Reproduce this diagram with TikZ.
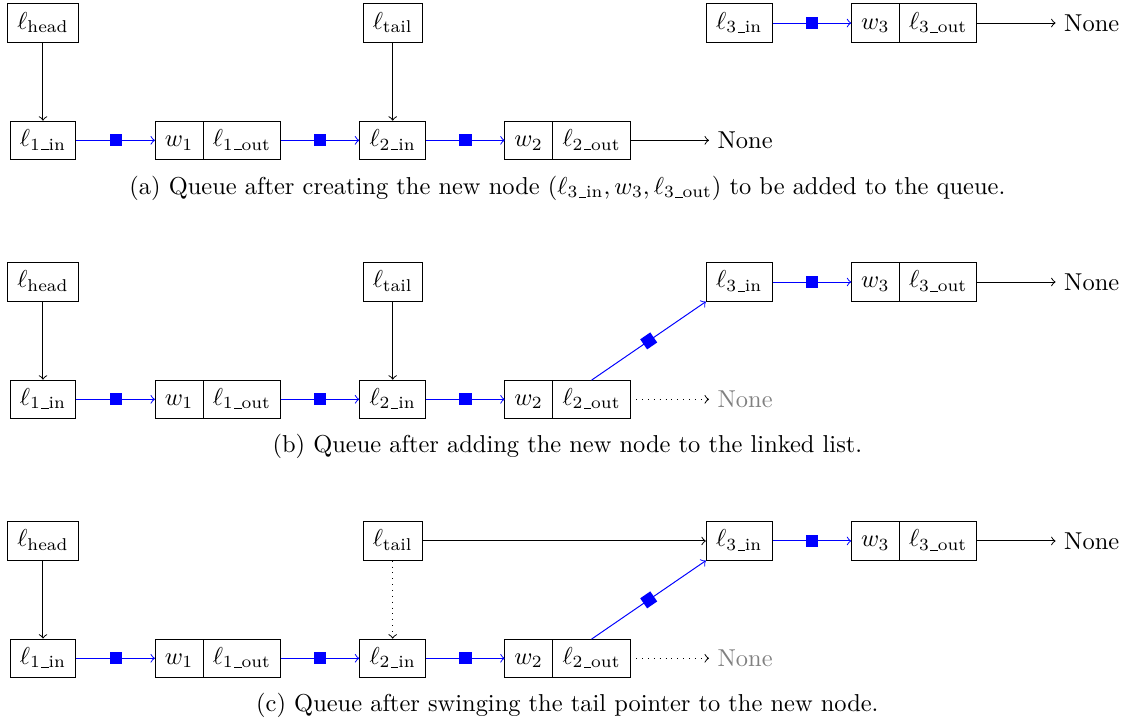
\documentclass[tikz,border=0pt]{standalone}
\usepackage{amsmath}
\usetikzlibrary{positioning}
\newcommand{\usc}{\kern.6pt\vbox{\hrule width3pt}}
\newcommand{\lIn}[1]{\ell_{\text{#1\usc in}}}
\newcommand{\lOut}[1]{\ell_{\text{#1\usc out}}}

\begin{document}
\begin{tikzpicture}[
    bx/.style={draw,inner xsep=4pt,inner ysep=3.2pt,text height=7.1pt,text depth=2.2pt},
    pt/.style={bx,outer sep=0pt},
    ar/.style={->},
    bl/.style={->,blue},
    mk/.style={fill=blue,minimum size=5pt,inner sep=0pt,sloped},
    node distance=1.13cm
]
\useasboundingbox (0,0) rectangle (16.26,-10.41);
% the same queue in all three rows
\foreach \r/\yy/\nc in {a/0/black,b/-3.723/gray,c/-7.446/gray}{
\begin{scope}[yshift=\yy cm,name prefix/.expanded=\r-]
\node[bx] (head) at (0.618,-0.331) {$\ell_{\text{head}}$};
\node[bx,below=1.121cm of head] (l1in) {$\lIn{1}$};
\node[pt,right=of l1in] (w1) {$w_1$};
\node[pt,right=0pt of w1] (o1) {$\lOut{1}$};
\node[bx,right=of o1] (l2in) {$\lIn{2}$};
\node[bx,above=1.121cm of l2in] (tail) {$\ell_{\text{tail}}$};
\node[pt,right=of l2in] (w2) {$w_2$};
\node[pt,right=0pt of w2] (o2) {$\lOut{2}$};
\node[right=of o2,text=\nc] (none2) {None};
\node[bx,right=4.068cm of tail] (l3in) {$\lIn{3}$};
\node[pt,right=of l3in] (w3) {$w_3$};
\node[pt,right=0pt of w3] (o3) {$\lOut{3}$};
\node[right=of o3] (none3) {None};
\draw[ar] (head) -- (l1in);
\draw[bl] (l1in) -- node[mk]{} (w1);
\draw[bl] (o1) -- node[mk]{} (l2in);
\draw[bl] (l2in) -- node[mk]{} (w2);
\draw[bl] (l3in) -- node[mk]{} (w3);
\draw[ar] (o3) -- (none3);
\end{scope}
}
% (a)
\draw[ar] (a-tail) -- (a-l2in);
\draw[ar] (a-o2) -- (a-none2);
% (b)
\draw[ar] (b-tail) -- (b-l2in);
\draw[ar,dotted] (b-o2) -- (b-none2);
\draw[bl] (b-o2.north) -- node[mk]{} (b-l3in.south west);
% (c)
\draw[ar,dotted] (c-tail) -- (c-l2in);
\draw[ar] (c-tail) -- (c-l3in);
\draw[ar,dotted] (c-o2) -- (c-none2);
\draw[bl] (c-o2.north) -- node[mk]{} (c-l3in.south west);
% captions
\node (capa) at (8.157,-2.702) {(a) Queue after creating the new node ($\lIn{3}, w_3, \lOut{3}$) to be added to the queue.};
\node (capb) at (8.157,-6.411) {(b) Queue after adding the new node to the linked list.};
\node (capc) at (8.157,-10.134) {(c) Queue after swinging the tail pointer to the new node.};
\end{tikzpicture}
\end{document}
